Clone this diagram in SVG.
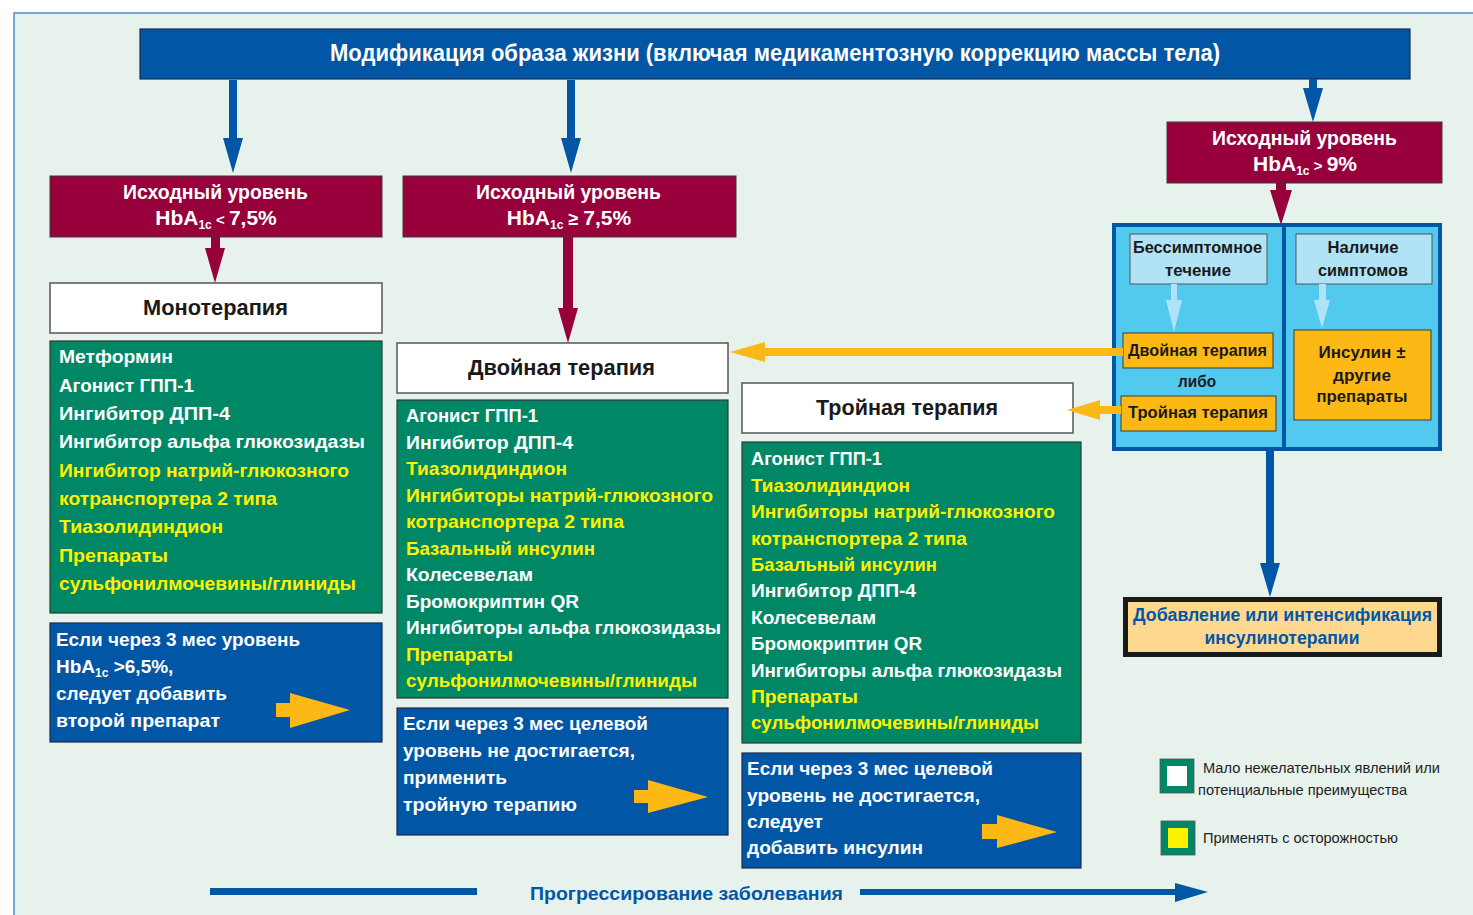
<svg xmlns="http://www.w3.org/2000/svg" width="1473" height="915" viewBox="0 0 1473 915">
<style>
text{font-family:"Liberation Sans",Arial,sans-serif;font-weight:bold}
.wt{fill:#ffffff}
.yt{fill:#fff200}
.dk{fill:#1a1a1a}
.g19{font-size:19px}
.red{fill:#98003c;stroke:#3a3a3a;stroke-width:1}
.wbox{fill:#ffffff;stroke:#555;stroke-width:1.5}
.gbox{fill:#008766;stroke:#2f3a35;stroke-width:1.2}
.bbox{fill:#0156a6;stroke:#1d2a4a;stroke-width:1.2}
.obox{fill:#fcb915;stroke:#3a3a3a;stroke-width:1}
.lbox{fill:#b1e3f6;stroke:#555;stroke-width:1}
.bl{fill:#0156a6}
.rd{fill:#98003c}
.ya{fill:#fcb915}
.la{fill:#b1e3f6}
.leg{font-weight:normal;font-size:15px;fill:#222}
</style>
<rect x="0" y="0" width="1473" height="915" fill="#ffffff"/>
<rect x="14" y="13" width="1470" height="910" fill="#e8f2ed" stroke="#4a8fd0" stroke-width="1.5"/>

<g id="banner">
  <rect x="140" y="29" width="1270" height="50" fill="#0156a6" stroke="#1d2a4a" stroke-width="1.2"/>
  <text class="wt" x="330" y="61" font-size="23" textLength="890" lengthAdjust="spacingAndGlyphs">Модификация образа жизни (включая медикаментозную коррекцию массы тела)</text>
</g>

<g id="hba-low">
  <rect class="red" x="50" y="176" width="332" height="61"/>
  <text class="wt" x="123" y="199" font-size="21" textLength="185" lengthAdjust="spacingAndGlyphs">Исходный уровень</text>
  <text class="wt" x="216" y="225" font-size="21" text-anchor="middle">HbA<tspan font-size="12" dy="4">1c</tspan><tspan font-size="15" dy="-4"> &lt; </tspan>7,5%</text>
</g>

<g id="hba-mid">
  <rect class="red" x="403" y="176" width="333" height="61"/>
  <text class="wt" x="476" y="199" font-size="21" textLength="185" lengthAdjust="spacingAndGlyphs">Исходный уровень</text>
  <text class="wt" x="569" y="225" font-size="21" text-anchor="middle">HbA<tspan font-size="12" dy="4">1c</tspan><tspan font-size="18" dy="-4"> ≥ </tspan>7,5%</text>
</g>

<g id="hba-high">
  <rect class="red" x="1167" y="122" width="275" height="61"/>
  <text class="wt" x="1212" y="145" font-size="21" textLength="185" lengthAdjust="spacingAndGlyphs">Исходный уровень</text>
  <text class="wt" x="1305" y="171" font-size="21" text-anchor="middle">HbA<tspan font-size="12" dy="4">1c</tspan><tspan font-size="15" dy="-4"> &gt; </tspan>9%</text>
</g>

<g id="mono-title">
  <rect class="wbox" x="50" y="283" width="332" height="50"/>
  <text class="dk" x="143" y="315" font-size="22" textLength="145" lengthAdjust="spacingAndGlyphs">Монотерапия</text>
</g>

<g id="mono-list">
  <rect class="gbox" x="50" y="341" width="332" height="272"/>
  <g class="g19">
    <text class="wt" x="59" y="363" textLength="114" lengthAdjust="spacingAndGlyphs">Метформин</text>
    <text class="wt" x="59" y="391.5" textLength="135" lengthAdjust="spacingAndGlyphs">Агонист ГПП-1</text>
    <text class="wt" x="59" y="420" textLength="171" lengthAdjust="spacingAndGlyphs">Ингибитор ДПП-4</text>
    <text class="wt" x="59" y="448" textLength="306" lengthAdjust="spacingAndGlyphs">Ингибитор альфа глюкозидазы</text>
    <text class="yt" x="59" y="476.5" textLength="290" lengthAdjust="spacingAndGlyphs">Ингибитор натрий-глюкозного</text>
    <text class="yt" x="59" y="505" textLength="218" lengthAdjust="spacingAndGlyphs">котранспортера 2 типа</text>
    <text class="yt" x="59" y="533" textLength="164" lengthAdjust="spacingAndGlyphs">Тиазолидиндион</text>
    <text class="yt" x="59" y="561.5" textLength="109" lengthAdjust="spacingAndGlyphs">Препараты</text>
    <text class="yt" x="59" y="590" textLength="297" lengthAdjust="spacingAndGlyphs">сульфонилмочевины/глиниды</text>
  </g>
</g>

<g id="mono-next">
  <rect class="bbox" x="50" y="623" width="332" height="119"/>
  <g class="g19">
    <text class="wt" x="56" y="646" textLength="244" lengthAdjust="spacingAndGlyphs">Если через 3 мес уровень</text>
    <text class="wt" x="56" y="673">HbA<tspan font-size="12" dy="4">1c</tspan><tspan dy="-4"> &gt;6,5%,</tspan></text>
    <text class="wt" x="56" y="700" textLength="171" lengthAdjust="spacingAndGlyphs">следует добавить</text>
    <text class="wt" x="56" y="727" textLength="164" lengthAdjust="spacingAndGlyphs">второй препарат</text>
  </g>
</g>

<g id="dual-title">
  <rect class="wbox" x="397" y="343" width="331" height="50"/>
  <text class="dk" x="468" y="375" font-size="22" textLength="187" lengthAdjust="spacingAndGlyphs">Двойная терапия</text>
</g>

<g id="dual-list">
  <rect class="gbox" x="397" y="400" width="331" height="298"/>
  <g class="g19">
    <text class="wt" x="406" y="422" textLength="132" lengthAdjust="spacingAndGlyphs">Агонист ГПП-1</text>
    <text class="wt" x="406" y="448.5" textLength="167" lengthAdjust="spacingAndGlyphs">Ингибитор ДПП-4</text>
    <text class="yt" x="406" y="475" textLength="161" lengthAdjust="spacingAndGlyphs">Тиазолидиндион</text>
    <text class="yt" x="406" y="501.5" textLength="307" lengthAdjust="spacingAndGlyphs">Ингибиторы натрий-глюкозного</text>
    <text class="yt" x="406" y="528" textLength="218" lengthAdjust="spacingAndGlyphs">котранспортера 2 типа</text>
    <text class="yt" x="406" y="554.5" textLength="189" lengthAdjust="spacingAndGlyphs">Базальный инсулин</text>
    <text class="wt" x="406" y="581" textLength="127" lengthAdjust="spacingAndGlyphs">Колесевелам</text>
    <text class="wt" x="406" y="607.5" textLength="173" lengthAdjust="spacingAndGlyphs">Бромокриптин QR</text>
    <text class="wt" x="406" y="634" textLength="315" lengthAdjust="spacingAndGlyphs">Ингибиторы альфа глюкозидазы</text>
    <text class="yt" x="406" y="660.5" textLength="107" lengthAdjust="spacingAndGlyphs">Препараты</text>
    <text class="yt" x="406" y="687" textLength="291" lengthAdjust="spacingAndGlyphs">сульфонилмочевины/глиниды</text>
  </g>
</g>

<g id="dual-next">
  <rect class="bbox" x="397" y="708" width="331" height="127"/>
  <g class="g19">
    <text class="wt" x="403" y="730" textLength="245" lengthAdjust="spacingAndGlyphs">Если через 3 мес целевой</text>
    <text class="wt" x="403" y="757" textLength="232" lengthAdjust="spacingAndGlyphs">уровень не достигается,</text>
    <text class="wt" x="403" y="784" textLength="104" lengthAdjust="spacingAndGlyphs">применить</text>
    <text class="wt" x="403" y="811" textLength="174" lengthAdjust="spacingAndGlyphs">тройную терапию</text>
  </g>
</g>

<g id="triple-title">
  <rect class="wbox" x="742" y="383" width="331" height="50"/>
  <text class="dk" x="816" y="415" font-size="22" textLength="182" lengthAdjust="spacingAndGlyphs">Тройная терапия</text>
</g>

<g id="triple-list">
  <rect class="gbox" x="742" y="442" width="339" height="301"/>
  <g class="g19">
    <text class="wt" x="751" y="465" textLength="131" lengthAdjust="spacingAndGlyphs">Агонист ГПП-1</text>
    <text class="yt" x="751" y="491.5" textLength="159" lengthAdjust="spacingAndGlyphs">Тиазолидиндион</text>
    <text class="yt" x="751" y="518" textLength="304" lengthAdjust="spacingAndGlyphs">Ингибиторы натрий-глюкозного</text>
    <text class="yt" x="751" y="544.5" textLength="216" lengthAdjust="spacingAndGlyphs">котранспортера 2 типа</text>
    <text class="yt" x="751" y="571" textLength="186" lengthAdjust="spacingAndGlyphs">Базальный инсулин</text>
    <text class="wt" x="751" y="597" textLength="165" lengthAdjust="spacingAndGlyphs">Ингибитор ДПП-4</text>
    <text class="wt" x="751" y="623.5" textLength="125" lengthAdjust="spacingAndGlyphs">Колесевелам</text>
    <text class="wt" x="751" y="650" textLength="171" lengthAdjust="spacingAndGlyphs">Бромокриптин QR</text>
    <text class="wt" x="751" y="676.5" textLength="311" lengthAdjust="spacingAndGlyphs">Ингибиторы альфа глюкозидазы</text>
    <text class="yt" x="751" y="703" textLength="107" lengthAdjust="spacingAndGlyphs">Препараты</text>
    <text class="yt" x="751" y="729" textLength="288" lengthAdjust="spacingAndGlyphs">сульфонилмочевины/глиниды</text>
  </g>
</g>

<g id="triple-next">
  <rect class="bbox" x="742" y="753" width="339" height="115"/>
  <g class="g19">
    <text class="wt" x="747" y="775" textLength="246" lengthAdjust="spacingAndGlyphs">Если через 3 мес целевой</text>
    <text class="wt" x="747" y="802" textLength="233" lengthAdjust="spacingAndGlyphs">уровень не достигается,</text>
    <text class="wt" x="747" y="828" textLength="76" lengthAdjust="spacingAndGlyphs">следует</text>
    <text class="wt" x="747" y="854" textLength="176" lengthAdjust="spacingAndGlyphs">добавить инсулин</text>
  </g>
</g>

<g id="high-panel">
  <rect x="1114" y="225" width="326" height="224" fill="#52c9ef" stroke="#0156a6" stroke-width="4"/>
  <line x1="1284" y1="225" x2="1284" y2="449" stroke="#0156a6" stroke-width="4"/>
</g>

<g id="asymptomatic">
  <rect class="lbox" x="1130" y="234" width="137" height="50"/>
  <text class="dk" x="1133" y="253" font-size="17" textLength="129" lengthAdjust="spacingAndGlyphs">Бессимптомное</text>
  <text class="dk" x="1198" y="276" font-size="17" text-anchor="middle" textLength="66" lengthAdjust="spacingAndGlyphs">течение</text>
</g>

<g id="symptoms">
  <rect class="lbox" x="1296" y="234" width="136" height="50"/>
  <text class="dk" x="1363" y="253" font-size="17" text-anchor="middle" textLength="71" lengthAdjust="spacingAndGlyphs">Наличие</text>
  <text class="dk" x="1363" y="276" font-size="17" text-anchor="middle" textLength="90" lengthAdjust="spacingAndGlyphs">симптомов</text>
</g>

<g id="dual-option">
  <rect class="obox" x="1123" y="333" width="150" height="35"/>
  <text class="dk" x="1128" y="356" font-size="17" textLength="139" lengthAdjust="spacingAndGlyphs">Двойная терапия</text>
</g>
<g id="or-label">
  <text class="dk" x="1197" y="387" font-size="16" text-anchor="middle" textLength="38" lengthAdjust="spacingAndGlyphs">либо</text>
</g>
<g id="triple-option">
  <rect class="obox" x="1121" y="396" width="155" height="35"/>
  <text class="dk" x="1128" y="418" font-size="17" textLength="140" lengthAdjust="spacingAndGlyphs">Тройная терапия</text>
</g>

<g id="insulin-option">
  <rect class="obox" x="1294" y="330" width="137" height="90"/>
  <text class="dk" x="1362" y="358" font-size="17" text-anchor="middle" textLength="87" lengthAdjust="spacingAndGlyphs">Инсулин ±</text>
  <text class="dk" x="1362" y="381" font-size="17" text-anchor="middle" textLength="58" lengthAdjust="spacingAndGlyphs">другие</text>
  <text class="dk" x="1362" y="402" font-size="17" text-anchor="middle" textLength="91" lengthAdjust="spacingAndGlyphs">препараты</text>
</g>

<g id="insulin-intensify">
  <rect x="1125.5" y="599.5" width="314" height="55" fill="#fed88f" stroke="#1a1a1a" stroke-width="5"/>
  <text x="1133" y="621" font-size="18" fill="#0156a6" textLength="299" lengthAdjust="spacingAndGlyphs">Добавление или интенсификация</text>
  <text x="1282" y="644" font-size="18" fill="#0156a6" text-anchor="middle" textLength="155" lengthAdjust="spacingAndGlyphs">инсулинотерапии</text>
</g>

<g id="legend">
  <rect x="1163.5" y="762.5" width="27" height="27" fill="#ffffff" stroke="#008766" stroke-width="7"/>
  <rect x="1160" y="759" width="34" height="34" fill="none" stroke="#555" stroke-width="0.8"/>
  <text class="leg" x="1203" y="773" textLength="237" lengthAdjust="spacingAndGlyphs">Мало нежелательных явлений или</text>
  <text class="leg" x="1198" y="795" textLength="209" lengthAdjust="spacingAndGlyphs">потенциальные преимущества</text>
  <rect x="1164.5" y="824.5" width="27" height="27" fill="#fff200" stroke="#008766" stroke-width="7"/>
  <rect x="1161" y="821" width="34" height="34" fill="none" stroke="#555" stroke-width="0.8"/>
  <text class="leg" x="1203" y="843" textLength="195" lengthAdjust="spacingAndGlyphs">Применять с осторожностью</text>
</g>

<g id="progression">
  <rect x="210" y="888" width="267" height="7" fill="#0156a6"/>
  <text x="530" y="900" font-size="19" fill="#0156a6" textLength="313" lengthAdjust="spacingAndGlyphs">Прогрессирование заболевания</text>
  <polygon class="bl" points="860,889 1175,889 1175,883 1208,892 1175,902 1175,895 860,895"/>
</g>

<g id="connectors">
  <polygon class="bl" points="229,80 237,80 237,138 243,138 233,173 223,138 229,138"/>
  <polygon class="bl" points="567,80 575,80 575,138 581,138 571,173 561,138 567,138"/>
  <polygon class="bl" points="1309,79 1317,79 1317,88 1323,88 1313,122 1303,88 1309,88"/>
  <polygon class="rd" points="211,237 220,237 220,248 225,248 215,283 205,248 211,248"/>
  <polygon class="rd" points="563,237 573,237 573,308 578,308 568,343 558,308 563,308"/>
  <polygon class="rd" points="1276,183 1286,183 1286,190 1292,190 1281,225 1270,190 1276,190"/>
  <polygon class="la" points="1171,284 1177,284 1177,300 1182,300 1174,332 1166,300 1171,300"/>
  <polygon class="la" points="1319,284 1326,284 1326,300 1330,300 1322,328 1314,300 1319,300"/>
  <polygon class="ya" points="1123,348 765,348 765,342 730,352 765,362 765,356 1123,356"/>
  <polygon class="ya" points="1121,406 1100,406 1100,400 1067,410 1100,420 1100,414 1121,414"/>
  <polygon class="bl" points="1266,451 1274,451 1274,563 1280,563 1270,597 1260,563 1266,563"/>
  <polygon class="ya" points="276,703 290,703 290,693 350,710 290,728 290,717 276,717"/>
  <polygon class="ya" points="634,790 648,790 648,780 708,797 648,813 648,803 634,803"/>
  <polygon class="ya" points="982,824 997,824 997,815 1057,832 997,848 997,839 982,839"/>
</g>
</svg>
